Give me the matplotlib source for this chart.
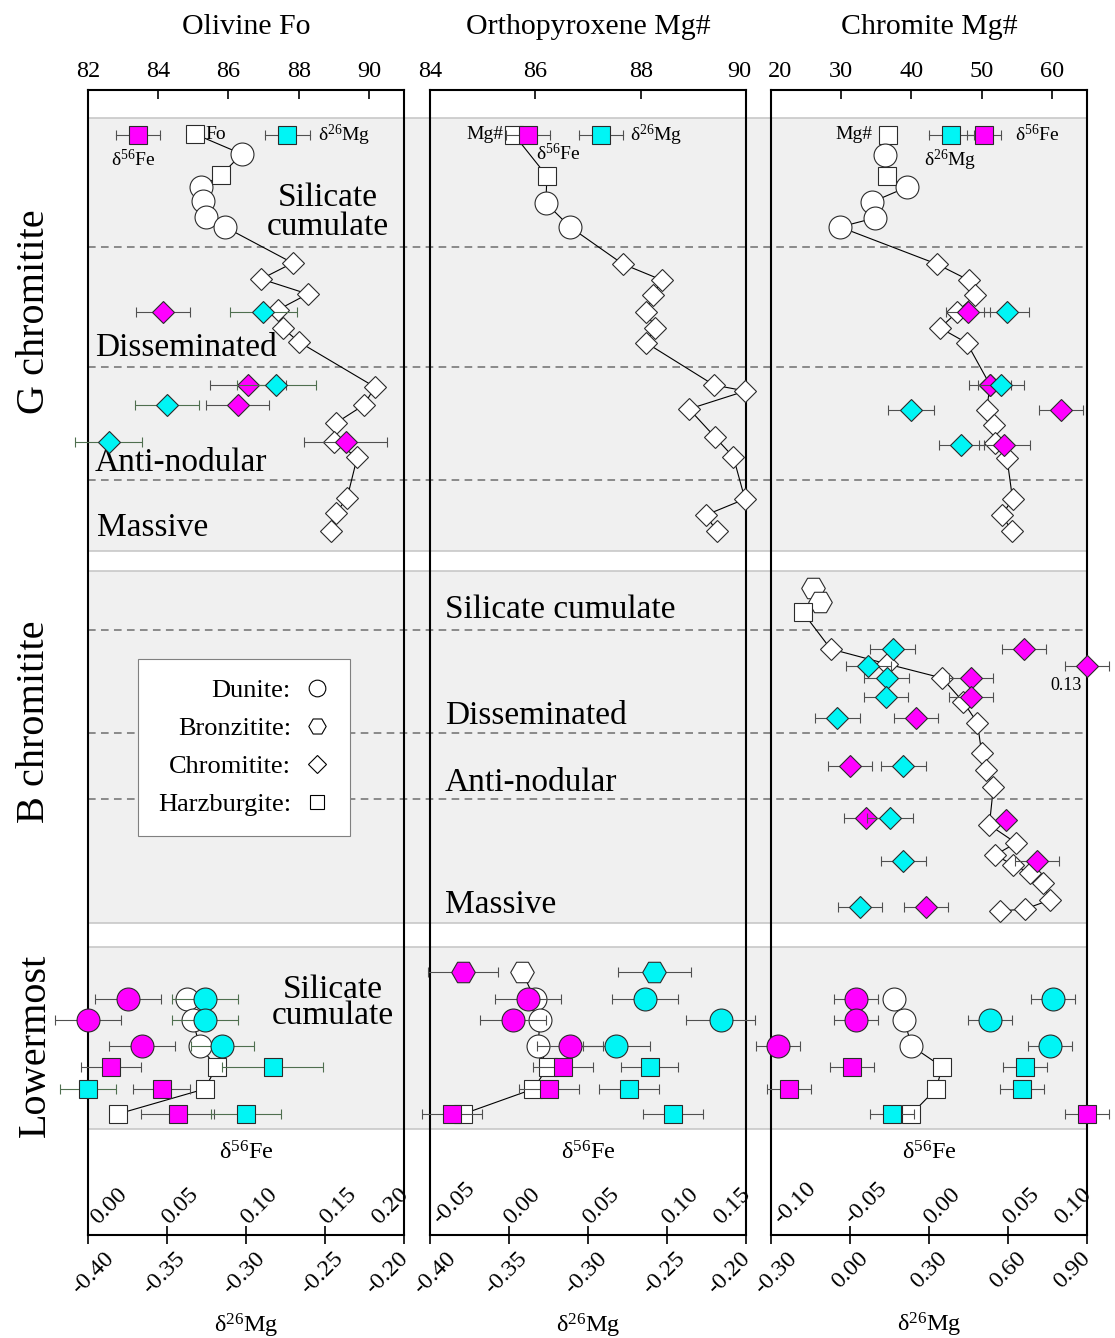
import numpy as np
import matplotlib
matplotlib.use('Agg')
import matplotlib.pyplot as plt
import matplotlib.transforms as mtransforms
from matplotlib.lines import Line2D

plt.rcParams['font.family'] = 'Liberation Serif'
plt.rcParams['mathtext.default'] = 'regular'

nan = np.nan

# depth is counted downward from the top of the log (arbitrary units)
DEPTH_MAX = 1145

# lithology codes: d dunite, b bronzitite, c chromitite, h harzburgite
unit_bands = [(28, 461), (481, 833), (857, 1039)]
unit_contacts = [157, 277, 390, 540, 643, 709]
section_names = ['G chromitite', 'B chromitite', 'Lowermost']
section_label_depth = [222, 632, 955]

# ---- Olivine Fo -------------------------------------------------------
ol_ticks = [82, 84, 86, 88, 90]
ol_fe_ticks = [0.00, 0.05, 0.10, 0.15, 0.20]
ol_mg_ticks = [-0.40, -0.35, -0.30, -0.25, -0.20]

ol_g_depth = [44, 64, 85, 97, 111, 127, 137, 173, 189, 204, 220, 238, 252,
              297, 315, 333, 352, 367, 408, 423, 441]
ol_g_fo = [85.04, 86.38, 85.79, 85.22, 85.27, 85.35, 85.90, 87.83, 86.93,
           88.26, 87.40, 87.54, 88.01, 90.17, 89.86, 89.06, 89.00, 89.67,
           89.38, 89.06, 88.91]
ol_g_rock = list('hdhdddd' + 'cccccccccccccc')

ol_g_iso_depth = [222, 295, 315, 352]
ol_g_iso_rock = list('cccc')
ol_g_fe = [0.0475, 0.101, 0.0948, 0.163]
ol_g_fe_err = [0.017, 0.024, 0.020, 0.026]
ol_g_mg = [-0.289, -0.281, -0.350, -0.387]
ol_g_mg_err = [0.021, 0.025, 0.020, 0.021]

ol_l_depth = [909, 930, 956, 977, 999, 1024]
ol_l_fo = [84.81, 84.98, 85.18, 85.66, 85.32, 82.85]
ol_l_rock = list('dddhhh')
ol_l_fe = [0.0252, 0.0, 0.034, 0.0145, 0.0467, 0.0568]
ol_l_fe_err = [0.021, 0.021, 0.021, 0.019, 0.018, 0.023]
ol_l_mg = [-0.326, -0.326, -0.315, -0.283, -0.40, -0.30]
ol_l_mg_err = [0.021, 0.021, 0.020, 0.032, 0.018, 0.022]

# ---- Orthopyroxene Mg# ------------------------------------------------
opx_ticks = [84, 86, 88, 90]
opx_fe_ticks = [-0.05, 0.00, 0.05, 0.10, 0.15]
opx_mg_ticks = [-0.40, -0.35, -0.30, -0.25, -0.20]

opx_g_depth = [45, 86, 113, 137, 174, 190, 205, 222, 238, 253, 295, 301,
               319, 347, 367, 409, 425, 441]
opx_g_mgno = [85.60, 86.22, 86.20, 86.66, 87.66, 88.40, 88.24, 88.11, 88.27,
              88.11, 89.39, 89.99, 88.92, 89.41, 89.76, 89.98, 89.24, 89.44]
opx_g_rock = list('hhdd' + 'cccccccccccccc')

opx_l_depth = [882, 909, 930, 956, 977, 999, 1024]
opx_l_mgno = [85.75, 85.99, 86.09, 86.05, 86.24, 85.96, 84.63]
opx_l_rock = list('bdddhhh')
opx_l_fe = [-0.029, 0.012, 0.0025, 0.0386, 0.034, 0.0253, -0.036]
opx_l_fe_err = [0.022, 0.021, 0.021, 0.021, 0.019, 0.019, 0.019]
opx_l_mg = [-0.258, -0.264, -0.216, -0.282, -0.261, -0.274, -0.246]
opx_l_mg_err = [0.023, 0.021, 0.022, 0.021, 0.018, 0.019, 0.019]

# ---- Chromite Mg# -----------------------------------------------------
chr_ticks = [20, 30, 40, 50, 60]
chr_fe_ticks = [-0.10, -0.05, 0.00, 0.05, 0.10]
chr_mg_ticks = [-0.30, 0.00, 0.30, 0.60, 0.90]

chr_g_depth = [45, 65, 86, 97, 112, 128, 137, 174, 190, 205, 222, 238, 253,
               295, 320, 335, 353, 368, 409, 425, 441]
chr_g_mgno = [36.7, 36.3, 36.45, 39.4, 34.4, 34.75, 29.83, 43.6, 48.13, 49.08,
              46.5, 44.1, 47.9, 51.2, 50.7, 51.7, 51.9, 53.6, 54.4, 52.9, 54.3]
chr_g_rock = list('hdhdddd' + 'cccccccccccccc')

chr_g_iso_depth = [222, 295, 320, 355]
chr_g_iso_rock = list('cccc')
chr_g_fe = [0.0249, 0.0386, 0.0835, 0.0477]
chr_g_fe_err = [0.014, 0.013, 0.014, 0.016]
chr_g_mg = [0.595, 0.573, 0.232, 0.422]
chr_g_mg_err = [0.086, 0.086, 0.087, 0.085]

chr_b_depth = [498, 512, 522, 559, 574, 588, 612, 633, 663, 680, 697, 735,
               753, 765, 775, 783, 793, 810, 819, 821]
chr_b_mgno = [26.05, 26.99, 24.5, 28.5, 36.55, 44.35, 47.4, 49.4, 50.0, 50.6,
              51.67, 51.1, 54.9, 51.9, 54.5, 56.9, 58.8, 59.7, 56.2, 52.6]
chr_b_rock = list('bbh' + 'ccccccccccccccccc')

chr_b_iso_depth = [559, 576, 588, 607, 628, 676, 728, 730, 771, 817]
chr_b_iso_rock = list('cccccccccc')
chr_b_fe = [0.0603, 0.13, 0.0264, 0.0264, -0.0083, -0.050, -0.0399, 0.0487,
            0.0683, -0.002]
chr_b_fe_err = [0.014, 0.014, 0.014, 0.014, 0.014, 0.014, 0.014, 0.0,
                0.014, 0.014]
chr_b_mg = [0.162, 0.0696, 0.1396, 0.137, -0.048, 0.2025, 0.152, nan,
            0.2025, 0.038]
chr_b_mg_err = [0.085, 0.085, 0.085, 0.085, 0.085, 0.085, 0.086, nan,
                0.085, 0.085]

chr_l_depth = [909, 930, 956, 977, 999, 1024]
chr_l_mgno = [37.45, 39.0, 40.0, 44.4, 43.5, 40.0]
chr_l_rock = list('dddhhh')
chr_l_fe = [-0.046, -0.046, -0.0956, -0.0487, -0.0886, 0.10]
chr_l_fe_err = [0.014, 0.014, 0.014, 0.014, 0.014, 0.014]
chr_l_mg = [0.771, 0.532, 0.76, 0.665, 0.653, 0.16]
chr_l_mg_err = [0.083, 0.083, 0.083, 0.083, 0.083, 0.083]

FE_LABEL = 'δ$^{56}$Fe'
MG_LABEL = 'δ$^{26}$Mg'

MAGENTA = '#ff00ff'
CYAN = '#00f5f5'
EDGE = '#2b2b2b'
ECOLOR = '#505050'
BAND = '#f0f0f0'
BAND_EDGE = '#c8c8c8'

MARKERS = {'d': 'o', 'b': 'H', 'c': 'D', 'h': 's'}
SIZES = {'d': 16.5, 'b': 17, 'c': 11.7, 'h': 12.3}

W, H = 1115, 1338
TOP_PX, BOTTOM_PX = 90, 1235
TICK_FS = 17.5


def frac_box(x0, x1):
    return [x0 / W, 1 - BOTTOM_PX / H, (x1 - x0) / W, (BOTTOM_PX - TOP_PX) / H]


def draw_profile(ax, depth, value, rock):
    ax.plot(value, depth, color='black', lw=0.8, zorder=2, clip_on=False)
    for d, v, r in zip(depth, value, rock):
        ax.plot(v, d, ls='none', marker=MARKERS[r], ms=SIZES[r], mfc='white',
                mec=EDGE, mew=0.8, zorder=3, clip_on=False)


def draw_isotope(ax, depth, value, err, rock, color, lim, ecolor=ECOLOR):
    for d, v, e, r in zip(depth, value, err, rock):
        if np.isnan(v):
            continue
        # off-scale values sit on the frame and carry their value as a label
        shown = min(max(v, lim[0]), lim[1])
        cont = ax.errorbar(shown, d, xerr=e, fmt=MARKERS[r], ms=SIZES[r],
                           mfc=color, mec=EDGE, mew=0.8, ecolor=ecolor,
                           elinewidth=0.8, capsize=3.5, capthick=0.8,
                           zorder=4)
        for art in cont.get_children():
            art.set_clip_on(False)
        if shown != v:
            ax.annotate(f'{v:.2f}', (shown, d), xytext=(-15, -14),
                        textcoords='offset points', ha='center', va='center',
                        fontsize=13)


def key_marker(ax, xc, half, color):
    y = 0.9607
    ax.plot([xc - half, xc + half], [y, y], color=ECOLOR, lw=0.8, marker='|',
            ms=7, mew=0.8, transform=ax.transAxes, clip_on=False, zorder=5)
    ax.plot([xc], [y], marker='s', ms=12.3, mfc=color, mec=EDGE, mew=0.8,
            transform=ax.transAxes, clip_on=False, zorder=6)


def nudge(label, dx_px, dy_px=0):
    label.set_transform(label.get_transform() +
                        mtransforms.ScaledTranslation(dx_px / 100, dy_px / 100,
                                                      fig.dpi_scale_trans))


def nudge_row(labels, base, first, last):
    # edge labels are pulled inward so they stay inside the column
    for i, lab in enumerate(labels):
        dx = base
        if i == 0:
            dx += first
        elif i == len(labels) - 1:
            dx += last
        nudge(lab, dx)


fig = plt.figure(figsize=(W / 100, H / 100), dpi=100)

# shaded stratigraphic units running behind all three columns
bg = fig.add_axes(frac_box(88, 1087))
bg.set_xlim(0, 1)
bg.set_ylim(DEPTH_MAX, 0)
bg.axis('off')
for top, bottom in unit_bands:
    bg.axhspan(top, bottom, color=BAND, lw=0)
    bg.axhline(top, color=BAND_EDGE, lw=1.2)
    bg.axhline(bottom, color=BAND_EDGE, lw=1.2)
for y in unit_contacts:
    bg.axhline(y, color='#6e6e6e', lw=1.1, ls=(0, (5, 3.5)))

label_tr = mtransforms.blended_transform_factory(fig.transFigure, bg.transData)
for name, d in zip(section_names, section_label_depth):
    bg.text(35 / W, d, name, transform=label_tr, rotation=90, ha='center',
            va='center', fontsize=29)

columns = [
    dict(left=88, title='Olivine Fo', lim=(82, 91), ticks=ol_ticks,
         fe_lim=(0.0, 0.20), fe_ticks=ol_fe_ticks,
         mg_lim=(-0.40, -0.20), mg_ticks=ol_mg_ticks, mg_ecolor='#4f6f4f'),
    dict(left=430, title='Orthopyroxene Mg#', lim=(84, 90), ticks=opx_ticks,
         fe_lim=(-0.05, 0.15), fe_ticks=opx_fe_ticks,
         mg_lim=(-0.40, -0.20), mg_ticks=opx_mg_ticks, mg_ecolor=ECOLOR),
    dict(left=771, title='Chromite Mg#', lim=(20, 65), ticks=chr_ticks,
         fe_lim=(-0.10, 0.10), fe_ticks=chr_fe_ticks,
         mg_lim=(-0.30, 0.90), mg_ticks=chr_mg_ticks, mg_ecolor=ECOLOR),
]

axes = []
for cfg in columns:
    ax = fig.add_axes(frac_box(cfg['left'], cfg['left'] + 316))
    ax_fe = ax.twiny()
    ax_mg = ax.twiny()
    ax.patch.set_visible(False)
    ax.set_ylim(DEPTH_MAX, 0)
    ax.set_yticks([])

    # mineral composition on the top axis
    ax.xaxis.tick_top()
    ax.xaxis.set_label_position('top')
    ax.tick_params(axis='x', direction='in', length=6.5, width=1.2,
                   labelsize=TICK_FS, pad=6)
    ax.set_xticks(cfg['ticks'], [str(t) for t in cfg['ticks']])
    ax.set_xlim(*cfg['lim'])
    ax.set_xlabel(cfg['title'], fontsize=21.5, labelpad=19)
    for s in ax.spines.values():
        s.set_linewidth(1.5)

    # iron isotopes: ticks and labels inside the bottom of the frame
    ax_fe.xaxis.set_ticks_position('bottom')
    ax_fe.xaxis.set_label_position('bottom')
    ax_fe.tick_params(axis='x', direction='in', length=6.5, width=1.2,
                      labelsize=TICK_FS, pad=-5)
    ax_fe.set_xticks(cfg['fe_ticks'], [f'{t:.2f}' for t in cfg['fe_ticks']],
                     rotation=45, ha='left', va='bottom',
                     rotation_mode='anchor')
    ax_fe.set_xlim(*cfg['fe_lim'])
    ax_fe.set_xlabel(FE_LABEL, fontsize=17.5)
    ax_fe.xaxis.set_label_coords(0.5, 0.082)

    # magnesium isotopes: ticks and labels below the frame
    ax_mg.xaxis.set_ticks_position('bottom')
    ax_mg.xaxis.set_label_position('bottom')
    ax_mg.tick_params(axis='x', direction='out', length=6.5, width=1.2,
                      labelsize=TICK_FS, pad=3)
    ax_mg.set_xticks(cfg['mg_ticks'], [f'{t:.2f}' for t in cfg['mg_ticks']],
                     rotation=45, ha='right', va='top',
                     rotation_mode='anchor')
    ax_mg.set_xlim(*cfg['mg_lim'])
    ax_mg.set_xlabel(MG_LABEL, fontsize=17.5, labelpad=9)

    for twin in (ax_fe, ax_mg):
        for s in twin.spines.values():
            s.set_visible(False)
    nudge_row(ax_fe.get_xticklabels(), 6, 8, -27)
    nudge_row(ax_mg.get_xticklabels(), 8, 7, -15)
    axes.append((ax, ax_fe, ax_mg, cfg))

(ax1, fe1, mg1, c1), (ax2, fe2, mg2, c2), (ax3, fe3, mg3, c3) = axes

# keep the shared-edge labels of the middle and right columns apart
nudge(ax2.get_xticklabels()[-1], -7)
nudge(ax3.get_xticklabels()[0], 9)

# Olivine
draw_profile(ax1, ol_g_depth, ol_g_fo, ol_g_rock)
draw_profile(ax1, ol_l_depth, ol_l_fo, ol_l_rock)
draw_isotope(fe1, ol_g_iso_depth, ol_g_fe, ol_g_fe_err, ol_g_iso_rock, MAGENTA,
             c1['fe_lim'])
draw_isotope(mg1, ol_g_iso_depth, ol_g_mg, ol_g_mg_err, ol_g_iso_rock, CYAN,
             c1['mg_lim'], c1['mg_ecolor'])
draw_isotope(fe1, ol_l_depth, ol_l_fe, ol_l_fe_err, ol_l_rock, MAGENTA,
             c1['fe_lim'])
draw_isotope(mg1, ol_l_depth, ol_l_mg, ol_l_mg_err, ol_l_rock, CYAN,
             c1['mg_lim'], c1['mg_ecolor'])

# Orthopyroxene
draw_profile(ax2, opx_g_depth, opx_g_mgno, opx_g_rock)
draw_profile(ax2, opx_l_depth, opx_l_mgno, opx_l_rock)
draw_isotope(fe2, opx_l_depth, opx_l_fe, opx_l_fe_err, opx_l_rock, MAGENTA,
             c2['fe_lim'])
draw_isotope(mg2, opx_l_depth, opx_l_mg, opx_l_mg_err, opx_l_rock, CYAN,
             c2['mg_lim'])

# Chromite
draw_profile(ax3, chr_g_depth, chr_g_mgno, chr_g_rock)
draw_profile(ax3, chr_b_depth, chr_b_mgno, chr_b_rock)
draw_profile(ax3, chr_l_depth, chr_l_mgno, chr_l_rock)
draw_isotope(fe3, chr_g_iso_depth, chr_g_fe, chr_g_fe_err, chr_g_iso_rock,
             MAGENTA, c3['fe_lim'])
draw_isotope(mg3, chr_g_iso_depth, chr_g_mg, chr_g_mg_err, chr_g_iso_rock,
             CYAN, c3['mg_lim'])
draw_isotope(fe3, chr_b_iso_depth, chr_b_fe, chr_b_fe_err, chr_b_iso_rock,
             MAGENTA, c3['fe_lim'])
draw_isotope(mg3, chr_b_iso_depth, chr_b_mg, chr_b_mg_err, chr_b_iso_rock,
             CYAN, c3['mg_lim'])
draw_isotope(fe3, chr_l_depth, chr_l_fe, chr_l_fe_err, chr_l_rock, MAGENTA,
             c3['fe_lim'])
draw_isotope(mg3, chr_l_depth, chr_l_mg, chr_l_mg_err, chr_l_rock, CYAN,
             c3['mg_lim'])

# symbol keys at the head of each column
KEY_FS = 14
key_marker(fe1, 0.158, 0.069, MAGENTA)
ax1.text(0.142, 0.9397, FE_LABEL, transform=ax1.transAxes, ha='center',
         va='center', fontsize=KEY_FS)
ax1.text(0.37, 0.9607, 'Fo', transform=ax1.transAxes, ha='left', va='center',
         fontsize=KEY_FS)
key_marker(mg1, 0.63, 0.071, CYAN)
ax1.text(0.728, 0.9607, MG_LABEL, transform=ax1.transAxes, ha='left',
         va='center', fontsize=KEY_FS)

ax2.text(0.232, 0.9607, 'Mg#', transform=ax2.transAxes, ha='right',
         va='center', fontsize=KEY_FS)
key_marker(fe2, 0.31, 0.07, MAGENTA)
ax2.text(0.405, 0.9445, FE_LABEL, transform=ax2.transAxes, ha='center',
         va='center', fontsize=KEY_FS)
key_marker(mg2, 0.541, 0.071, CYAN)
ax2.text(0.633, 0.9607, MG_LABEL, transform=ax2.transAxes, ha='left',
         va='center', fontsize=KEY_FS)

ax3.text(0.32, 0.9607, 'Mg#', transform=ax3.transAxes, ha='right',
         va='center', fontsize=KEY_FS)
key_marker(mg3, 0.570, 0.071, CYAN)
key_marker(fe3, 0.674, 0.053, MAGENTA)
ax3.text(0.772, 0.9607, FE_LABEL, transform=ax3.transAxes, ha='left',
         va='center', fontsize=KEY_FS)
ax3.text(0.566, 0.9389, MG_LABEL, transform=ax3.transAxes, ha='center',
         va='center', fontsize=KEY_FS)

# unit names
UNIT_FS = 24
tr1 = ax1.get_yaxis_transform()
ax1.text(0.76, 122, 'Silicate\ncumulate', transform=tr1, ha='center',
         va='center', fontsize=UNIT_FS, linespacing=0.95)
ax1.text(0.022, 258, 'Disseminated', transform=tr1, ha='left', va='center',
         fontsize=UNIT_FS)
ax1.text(0.022, 373, 'Anti-nodular', transform=tr1, ha='left', va='center',
         fontsize=UNIT_FS)
ax1.text(0.028, 438, 'Massive', transform=tr1, ha='left', va='center',
         fontsize=UNIT_FS)
ax1.text(0.775, 913, 'Silicate\ncumulate', transform=tr1, ha='center',
         va='center', fontsize=UNIT_FS, linespacing=0.8)

tr2 = ax2.get_yaxis_transform()
for text, d in [('Silicate cumulate', 520), ('Disseminated', 626),
                ('Anti-nodular', 693), ('Massive', 815)]:
    ax2.text(0.047, d, text, transform=tr2, ha='left', va='center',
             fontsize=UNIT_FS)

# lithology symbol legend
rock_handles = [
    Line2D([], [], ls='none', marker='o', ms=12, mfc='white', mec='black', mew=0.8),
    Line2D([], [], ls='none', marker='H', ms=12.5, mfc='white', mec='black', mew=0.8),
    Line2D([], [], ls='none', marker='D', ms=9, mfc='white', mec='black', mew=0.8),
    Line2D([], [], ls='none', marker='s', ms=10.5, mfc='white', mec='black', mew=0.8),
]
leg = ax1.legend(rock_handles, ['Dunite:', 'Bronzitite:', 'Chromitite:',
                                'Harzburgite:'],
                 loc='upper left', bbox_to_anchor=(0.158, 0.503),
                 markerfirst=False, fancybox=False, framealpha=1,
                 edgecolor='#808080', fontsize=19, handlelength=1.0,
                 handletextpad=0.5, borderpad=0.75, labelspacing=0.55,
                 borderaxespad=0)
leg.get_frame().set_linewidth(0.8)
leg.set_zorder(10)

fig.savefig('out.png', dpi=100)
